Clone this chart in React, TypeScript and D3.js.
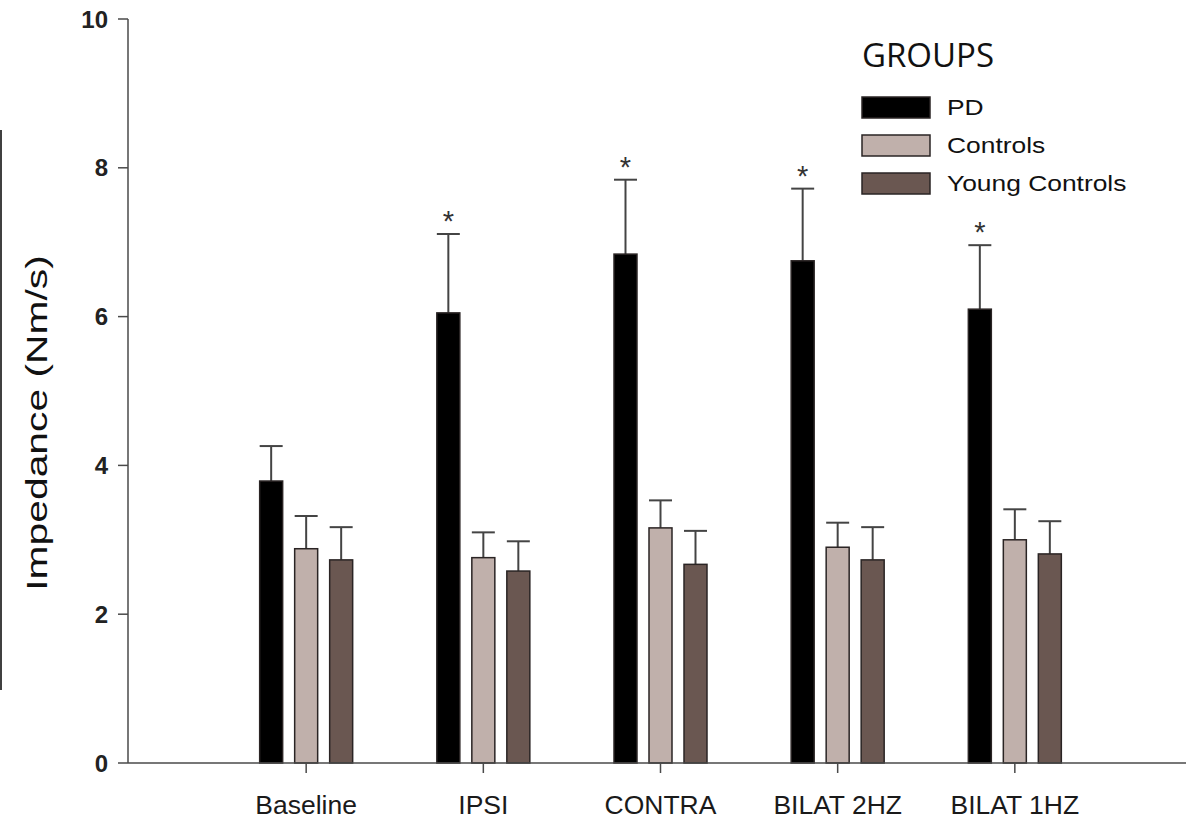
import * as d3 from "d3";

const categories = ["Baseline", "IPSI", "CONTRA", "BILAT 2HZ", "BILAT 1HZ"];
const groups = ["PD", "Controls", "Young Controls"];
const groupColors = ["#000000", "#c0b0ab", "#6a5751"];

const pd = [3.79, 6.05, 6.84, 6.75, 6.1];
const pdErr = [0.47, 1.06, 1.0, 0.97, 0.86];
const controls = [2.88, 2.76, 3.16, 2.9, 3.0];
const controlsErr = [0.44, 0.34, 0.37, 0.33, 0.41];
const young = [2.73, 2.58, 2.67, 2.73, 2.81];
const youngErr = [0.44, 0.4, 0.45, 0.44, 0.44];
const significant = [false, true, true, true, true];

const yTicks = [0, 2, 4, 6, 8, 10];

export default function App() {
    const width = 1186;
    const height = 820;
    const marginLeft = 128;
    const marginTop = 19;
    const marginBottom = 57;

    const x = d3.scalePoint(categories, [129, 1192]).padding(1);
    const offset = d3.scaleBand(groups, [-52.5, 52.5]).paddingInner(0.343).paddingOuter(0.1715);
    const y = d3.scaleLinear([0, 10], [height - marginBottom, marginTop]);
    const y0 = y(0);

    const series = [
        { name: groups[0], values: pd, err: pdErr },
        { name: groups[1], values: controls, err: controlsErr },
        { name: groups[2], values: young, err: youngErr },
    ];

    const axisColor = "#4a4a4a";
    const font = "'Liberation Sans', Arial, sans-serif";

    return (
        <svg width={width} height={height} style={{ position: "absolute", left: 0, top: 0, background: "#fff" }}>
            {/* stray frame fragment at left edge */}
            <line x1={1} x2={1} y1={130} y2={690} stroke="#000" strokeWidth={1.5} />

            {/* bars + error bars */}
            {series.map((s, si) => (
                <g key={s.name}>
                    {categories.map((c, i) => {
                        const bx = x(c) + offset(s.name);
                        const bw = offset.bandwidth();
                        const top = y(s.values[i]);
                        const errTop = y(s.values[i] + s.err[i]);
                        return (
                            <g key={c}>
                                <line x1={bx + bw / 2} x2={bx + bw / 2} y1={top} y2={errTop} stroke="#444" strokeWidth={2} />
                                <line x1={bx} x2={bx + bw} y1={errTop} y2={errTop} stroke="#444" strokeWidth={2} />
                                <rect x={bx} y={top} width={bw} height={y0 - top}
                                    fill={groupColors[si]} stroke="#2a2424" strokeWidth={1.5} />
                            </g>
                        );
                    })}
                </g>
            ))}

            {/* significance stars */}
            {categories.map((c, i) => significant[i] ? (
                <text key={c} x={x(c) + offset("PD") + offset.bandwidth() / 2}
                    y={y(pd[i] + pdErr[i]) - 3} textAnchor="middle"
                    fontFamily={font} fontSize={29} fill="#333">*</text>
            ) : null)}

            {/* y axis */}
            <line x1={marginLeft} x2={marginLeft} y1={y(10)} y2={y0} stroke={axisColor} strokeWidth={1.5} />
            {yTicks.map((t) => (
                <g key={t} transform={`translate(${marginLeft},${y(t)})`}>
                    <line x1={-10} x2={0} stroke={axisColor} strokeWidth={1.5} />
                    <text x={-20} dy="0.36em" textAnchor="end" fontFamily={font} fontWeight="bold" fontSize={24} fill="#222">{t}</text>
                </g>
            ))}

            {/* x axis */}
            <line x1={marginLeft} x2={width} y1={y0} y2={y0} stroke={axisColor} strokeWidth={1.5} />
            {categories.map((c) => (
                <g key={c} transform={`translate(${x(c)},${y0})`}>
                    <line y1={0} y2={10} stroke={axisColor} strokeWidth={1.5} />
                    <text transform="translate(0,51) scale(1.06,1)" textAnchor="middle" fontFamily={font} fontSize={25} fill="#1a1a1a">{c}</text>
                </g>
            ))}

            {/* y label */}
            <text transform={`translate(47,423) rotate(-90) scale(1.36,1)`} textAnchor="middle"
                fontFamily={font} fontSize={30} fill="#111">Impedance (Nm/s)</text>

            {/* legend */}
            <text x={862} y={67} fontFamily="'Open Sans', sans-serif" fontSize={33} fill="#111">GROUPS</text>
            {groups.map((g, i) => (
                <g key={g} transform={`translate(862,${97 + i * 38})`}>
                    <rect width={68} height={21} fill={groupColors[i]} stroke="#2a2424" strokeWidth={1.5} />
                    <text transform="translate(85,18) scale(1.2,1)" fontFamily={font} fontSize={22} fill="#111">{g}</text>
                </g>
            ))}
        </svg>
    );
}
